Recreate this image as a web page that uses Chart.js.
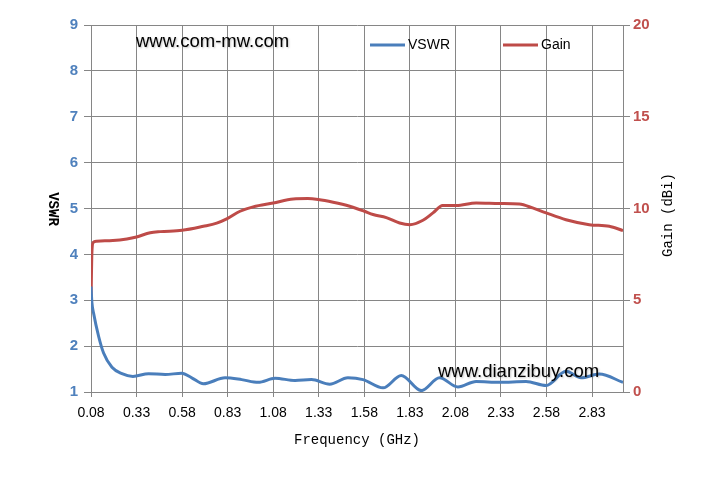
<!DOCTYPE html>
<html>
<head>
<meta charset="utf-8">
<script src="https://cdn.jsdelivr.net/npm/chart.js@4.4.1/dist/chart.umd.min.js"></script>
<style>
  html, body { margin: 0; padding: 0; background: #fff; }
  #wrap { width: 710px; height: 491px; position: relative; }
</style>
</head>
<body>
<div id="wrap"><canvas id="chart"></canvas></div>
<script>
// frequency tick labels (GHz)
const xTicks = [0.08, 0.33, 0.58, 0.83, 1.08, 1.33, 1.58, 1.83, 2.08, 2.33, 2.58, 2.83];

// VSWR curve
const vswrFreq = [0.08, 0.085, 0.094, 0.122, 0.149, 0.195, 0.25, 0.31, 0.396, 0.487, 0.578, 0.633, 0.697,
  0.816, 0.907, 0.998, 1.09, 1.2, 1.29, 1.39, 1.49, 1.573, 1.683, 1.783, 1.893, 1.993, 2.094, 2.194,
  2.322, 2.468, 2.578, 2.687, 2.77, 2.87, 3.0];
const vswrValues = [3.3, 2.95, 2.72, 2.21, 1.85, 1.54, 1.40, 1.34, 1.40, 1.38, 1.41, 1.31, 1.18,
  1.31, 1.27, 1.21, 1.30, 1.25, 1.27, 1.17, 1.31, 1.27, 1.09, 1.36, 1.03, 1.31, 1.11, 1.23,
  1.21, 1.23, 1.14, 1.45, 1.31, 1.39, 1.21];

// Gain curve (dBi)
const gainFreq = [0.08, 0.085, 0.092, 0.11, 0.2, 0.277, 0.33, 0.405, 0.46, 0.58, 0.697, 0.77, 0.825,
  0.898, 0.97, 1.08, 1.19, 1.27, 1.327, 1.409, 1.5, 1.58, 1.628, 1.701, 1.774, 1.83, 1.902, 1.957,
  2.01, 2.085, 2.194, 2.322, 2.431, 2.504, 2.578, 2.687, 2.815, 2.925, 3.0];
const gainValues = [4.8, 7.6, 8.15, 8.22, 8.25, 8.34, 8.45, 8.68, 8.74, 8.81, 9.03, 9.2, 9.43,
  9.85, 10.09, 10.3, 10.52, 10.54, 10.49, 10.34, 10.12, 9.85, 9.67, 9.5, 9.21, 9.12, 9.36, 9.76,
  10.16, 10.16, 10.3, 10.27, 10.24, 10.03, 9.76, 9.39, 9.12, 9.03, 8.8];

const blue = '#4a7ebb';
const red = '#be4b48';
const gridCol = '#868686';

const toPoints = (xs, ys) => xs.map((x, i) => ({ x: x, y: ys[i] }));

// extra text: rotated axis titles, legend inside the plot, watermarks
const extras = {
  id: 'extras',
  afterDraw(chart) {
    const ctx = chart.ctx;
    ctx.save();
    ctx.fillStyle = '#000';
    ctx.textBaseline = 'middle';
    ctx.textAlign = 'center';

    ctx.save();
    ctx.translate(53, 209);
    ctx.rotate(Math.PI / 2);
    ctx.font = 'bold 14px "Liberation Mono"';
    ctx.fillText('VSWR', 0, 0);
    ctx.restore();

    ctx.save();
    ctx.translate(668, 215);
    ctx.rotate(-Math.PI / 2);
    ctx.font = '14px "Liberation Mono"';
    ctx.fillText('Gain (dBi)', 0, 0);
    ctx.restore();

    // legend
    const items = [[370, 0], [503, 1]];
    ctx.textAlign = 'left';
    ctx.font = '14px "Liberation Sans"';
    items.forEach(([lx, i]) => {
      const ds = chart.data.datasets[i];
      ctx.strokeStyle = ds.borderColor;
      ctx.lineWidth = 3;
      ctx.beginPath();
      ctx.moveTo(lx, 45);
      ctx.lineTo(lx + 35, 45);
      ctx.stroke();
      ctx.fillText(ds.label, lx + 38, 45);
    });

    // watermarks
    ctx.font = '18.5px "Liberation Sans"';
    ctx.shadowColor = 'rgba(0,0,0,0.25)';
    ctx.shadowBlur = 2;
    ctx.shadowOffsetX = 1;
    ctx.shadowOffsetY = 1;
    ctx.fillText('www.com-mw.com', 136, 42);
    ctx.fillText('www.dianzibuy.com', 438, 372);
    ctx.restore();
  }
};

new Chart(document.getElementById('chart'), {
  type: 'line',
  data: {
    datasets: [{
      label: 'VSWR',
      data: toPoints(vswrFreq, vswrValues),
      borderColor: blue,
      borderWidth: 3,
      pointRadius: 0,
      cubicInterpolationMode: 'monotone',
      yAxisID: 'y'
    }, {
      label: 'Gain',
      data: toPoints(gainFreq, gainValues),
      borderColor: red,
      borderWidth: 3,
      pointRadius: 0,
      cubicInterpolationMode: 'monotone',
      yAxisID: 'y1'
    }]
  },
  options: {
    responsive: true,
    maintainAspectRatio: false,
    animation: false,
    layout: { padding: { top: 25, left: 0, right: 0, bottom: 0 } },
    plugins: { legend: { display: false }, tooltip: { enabled: false } },
    scales: {
      x: {
        type: 'linear',
        min: 0.08,
        max: 3.0,
        afterBuildTicks: s => { s.ticks = xTicks.map(v => ({ value: v })); },
        afterFit: s => { s.height = 99; },
        grid: { color: gridCol, tickLength: 5, tickColor: gridCol },
        border: { color: gridCol },
        ticks: {
          color: '#000',
          font: { family: 'Liberation Sans', size: 14 },
          padding: 8,
          maxRotation: 0,
          autoSkip: false,
          callback: v => Number(v).toFixed(2)
        },
        title: {
          display: true,
          text: 'Frequency (GHz)',
          color: '#000',
          font: { family: 'Liberation Mono', size: 14 },
          padding: { top: 4, bottom: 42 }
        }
      },
      y: {
        position: 'left',
        min: 1,
        max: 9,
        afterFit: s => { s.width = 91; },
        grid: { color: gridCol, tickLength: 7, tickColor: gridCol },
        border: { color: gridCol },
        ticks: {
          stepSize: 1,
          color: '#4f81bd',
          font: { family: 'Liberation Sans', size: 15, weight: 'bold' },
          padding: 6
        }
      },
      y1: {
        position: 'right',
        min: 0,
        max: 20,
        afterFit: s => { s.width = 87; },
        grid: { drawOnChartArea: false, color: gridCol, tickLength: 7, tickColor: gridCol },
        border: { color: gridCol },
        ticks: {
          stepSize: 5,
          color: '#c0504d',
          font: { family: 'Liberation Sans', size: 15, weight: 'bold' },
          padding: 3
        }
      }
    }
  },
  plugins: [extras]
});
</script>
</body>
</html>
